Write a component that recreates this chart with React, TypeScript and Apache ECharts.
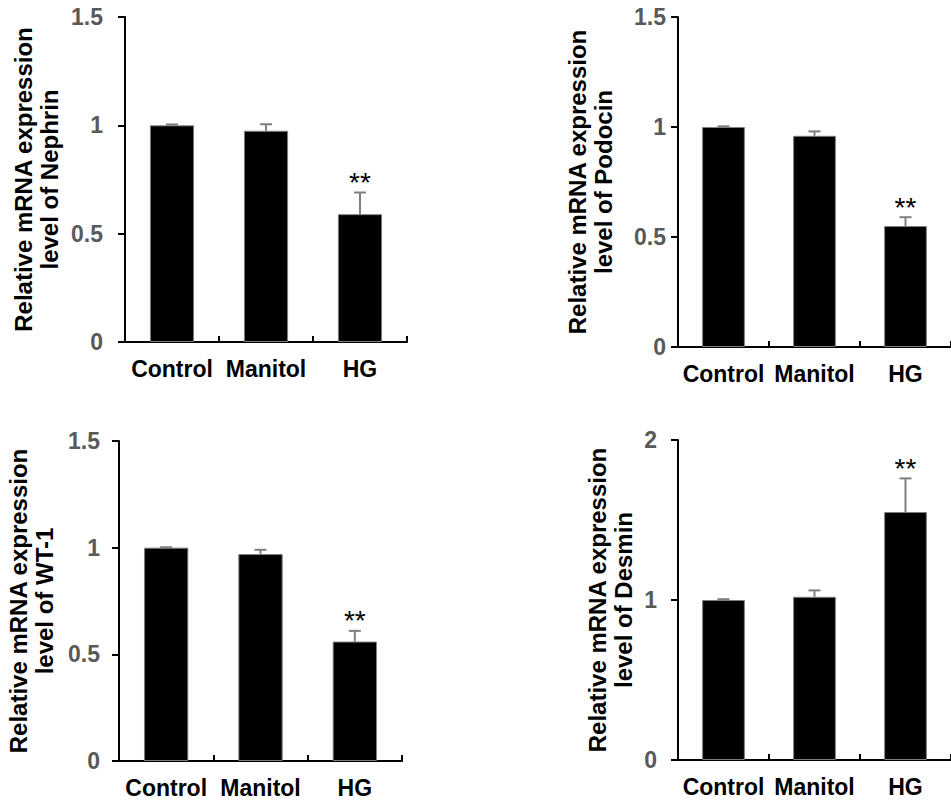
import React, { useEffect, useRef } from "react";
import * as echarts from "echarts";

const categories = ["Control", "Manitol", "HG"];

const nephrin = [1.0, 0.975, 0.59];
const nephrinErr = [0.004, 0.03, 0.1];

const podocin = [1.0, 0.96, 0.55];
const podocinErr = [0.003, 0.02, 0.04];

const wt1 = [1.0, 0.97, 0.56];
const wt1Err = [0.002, 0.02, 0.05];

const desmin = [1.0, 1.02, 1.55];
const desminErr = [0.005, 0.04, 0.21];

const significance = ["", "", "**"];

const FONT = "'Liberation Sans', Arial, Helvetica, sans-serif";

const panels = [
  {
    grid: { left: 125, top: 17, width: 282, height: 325 },
    max: 1.5,
    interval: 0.5,
    title: "Relative mRNA expression\nlevel of Nephrin",
    values: nephrin,
    errs: nephrinErr,
    labelMargin: 22,
    nameGap: 63,
  },
  {
    grid: { left: 678, top: 17, width: 276, height: 330 },
    max: 1.5,
    interval: 0.5,
    title: "Relative mRNA expression\nlevel of Podocin",
    values: podocin,
    errs: podocinErr,
    labelMargin: 12,
    nameGap: 62,
  },
  {
    grid: { left: 119, top: 441, width: 283, height: 320 },
    max: 1.5,
    interval: 0.5,
    title: "Relative mRNA expression\nlevel of WT-1",
    values: wt1,
    errs: wt1Err,
    labelMargin: 19,
    nameGap: 62,
  },
  {
    grid: { left: 678, top: 440, width: 279, height: 320 },
    max: 2,
    interval: 1,
    title: "Relative mRNA expression\nlevel of Desmin",
    values: desmin,
    errs: desminErr,
    labelMargin: 21,
    nameGap: 42,
  },
];

export default function App() {
  const ref = useRef<HTMLDivElement>(null);

  useEffect(() => {
    if (!ref.current) return;
    const chart = echarts.init(ref.current, null, { renderer: "svg" });

    const grids: any[] = [];
    const xAxes: any[] = [];
    const yAxes: any[] = [];
    const series: any[] = [];

    panels.forEach((p, i) => {
      grids.push({ ...p.grid, containLabel: false });
      xAxes.push({
        type: "category",
        gridIndex: i,
        data: categories,
        axisLine: { show: true, lineStyle: { color: "#000", width: 2 } },
        axisTick: {
          show: true,
          inside: true,
          length: 6,
          lineStyle: { color: "#000", width: 2 },
        },
        axisLabel: {
          interval: 0,
          margin: 15,
          color: "#000",
          fontSize: 23,
          fontWeight: "bold",
          fontFamily: FONT,
        },
        splitLine: { show: false },
      });
      yAxes.push({
        type: "value",
        gridIndex: i,
        min: 0,
        max: p.max,
        interval: p.interval,
        name: p.title,
        nameLocation: "middle",
        nameRotate: 90,
        nameGap: p.nameGap,
        nameTextStyle: {
          color: "#000",
          fontSize: 24,
          fontWeight: "bold",
          fontFamily: FONT,
          lineHeight: 26,
        },
        axisLine: { show: true, lineStyle: { color: "#000", width: 2 } },
        axisTick: {
          show: true,
          length: 7,
          lineStyle: { color: "#000", width: 2 },
        },
        axisLabel: {
          margin: p.labelMargin,
          color: "#595959",
          fontSize: 23,
          fontWeight: "bold",
          fontFamily: FONT,
        },
        splitLine: { show: false },
      });
      series.push({
        type: "bar",
        xAxisIndex: i,
        yAxisIndex: i,
        data: p.values,
        barWidth: "47%",
        itemStyle: { color: "#000", borderColor: "#7f7f7f", borderWidth: 1 },
        z: 2,
      });
      const errData = p.values.map((v, k) => [k, v, p.errs[k]]);
      series.push({
        type: "custom",
        xAxisIndex: i,
        yAxisIndex: i,
        data: errData,
        z: 5,
        encode: { x: 0, y: 1 },
        renderItem: (params: any, api: any) => {
          const idx = api.value(0);
          const mean = api.value(1);
          const err = api.value(2);
          const base = api.coord([idx, mean]);
          const top = api.coord([idx, mean + err]);
          const children: any[] = [
            {
              type: "line",
              shape: { x1: top[0], y1: base[1], x2: top[0], y2: top[1] },
              style: { stroke: "#7f7f7f", lineWidth: 2 },
            },
            {
              type: "line",
              shape: { x1: top[0] - 6, y1: top[1], x2: top[0] + 6, y2: top[1] },
              style: { stroke: "#7f7f7f", lineWidth: 2 },
            },
          ];
          const star = significance[params.dataIndex];
          if (star) {
            children.push({
              type: "text",
              x: top[0],
              y: top[1] - 10,
              style: {
                text: star,
                fill: "#000",
                fontSize: 28,
                fontFamily: FONT,
                align: "center",
                verticalAlign: "middle",
              },
            });
          }
          return { type: "group", children };
        },
      });
    });

    chart.setOption({
      animation: false,
      backgroundColor: "#fff",
      grid: grids,
      xAxis: xAxes,
      yAxis: yAxes,
      series,
    });

    return () => chart.dispose();
  }, []);

  return (
    <div
      ref={ref}
      style={{ position: "absolute", left: 0, top: 0, width: 951, height: 805 }}
    />
  );
}
